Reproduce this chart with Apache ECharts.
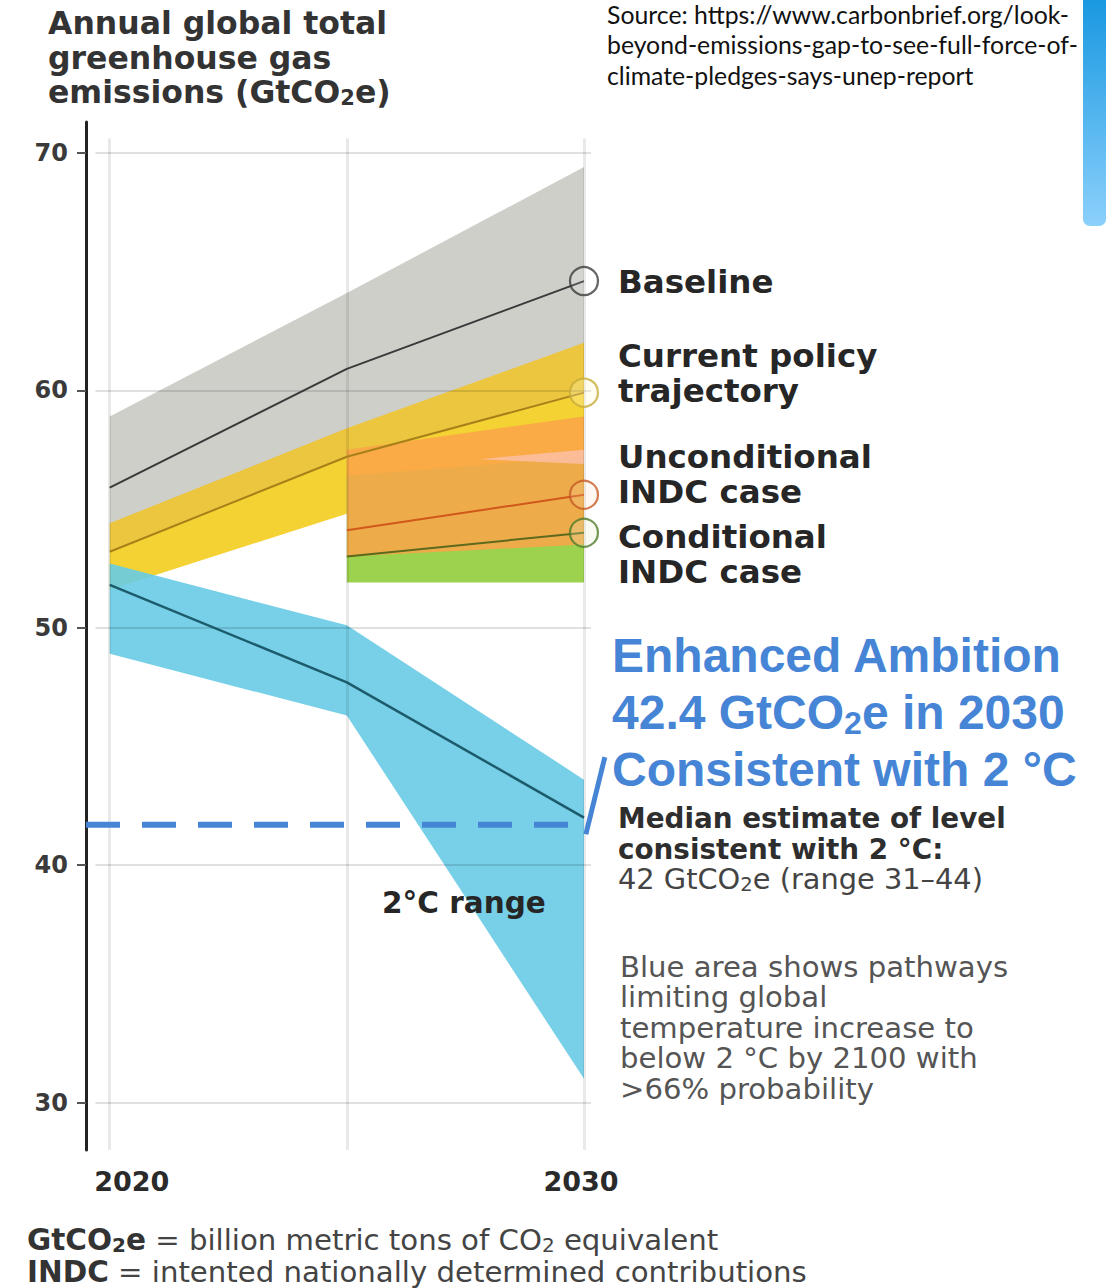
<!DOCTYPE html>
<html><head><meta charset="utf-8">
<script src="https://cdn.jsdelivr.net/npm/echarts@6/dist/echarts.min.js"></script>
<style>html,body{margin:0;padding:0;background:#fff}#c{width:1112px;height:1288px}</style>
</head><body><div id="c"></div>
<script>
// ---------- data ----------
const years = [2020, 2025, 2030];
const baselineMedian = [55.9, 60.9, 64.6];
const baselineHigh = [58.9, 64.1, 69.4];
const baselineLow = [53.2, 57.2, 60.0];
const currentMedian = [53.2, 57.2, 59.9];
const currentHigh = [54.4, 58.4, 62.0];
const currentLow = [51.6, 54.8, 56.6];
const indcYears = [2025, 2030];
const uncondMedian = [54.1, 55.6];
const uncondHigh = [57.5, 58.9];
const uncondLow = [53.0, 53.5];
const condMedian = [53.0, 54.0];
const condHigh = [56.4, 57.2];
const condLow = [51.9, 51.9];
const pinkYears = [2027.8, 2030];
const pinkLow = [57.1, 56.9];
const pinkHigh = [57.1, 57.5];
const twoDegMedian = [51.8, 47.7, 42.0];
const twoDegHigh = [52.7, 50.1, 43.6];
const twoDegLow = [48.9, 46.3, 31.0];
const enhancedLevel = 41.7;
const enhancedYears = [2019.5, 2029.9];
const slashYears = [2030.04, 2030.44];
const slashValues = [41.3, 44.55];
const yTicks = [30, 40, 50, 60, 70];
const xTicks = [2020, 2030];
const gridYears = [2020, 2025, 2030];

const titleLines = ['Annual global total', 'greenhouse gas', 'emissions (GtCO{s|2}e)'];
const sourceLines = ['Source: https://www.carbonbrief.org/look-', 'beyond-emissions-gap-to-see-full-force-of-', 'climate-pledges-says-unep-report'];
const caseLabels = ['Baseline', 'Current policy', 'trajectory', 'Unconditional', 'INDC case', 'Conditional', 'INDC case'];
const blueLines = ['Enhanced Ambition', '{m|42.4 GtCO}{s|2}{m|e in 2030}', 'Consistent with 2 °C'];
const medianLines = ['Median estimate of level', 'consistent with 2 °C:'];
const medianValue = '{r|42 GtCO}{s|2}{r|e (range 31\u201344)}';
const noteLines = ['Blue area shows pathways', 'limiting global', 'temperature increase to', 'below 2 °C by 2100 with', '>66% probability'];
const rangeLabel = '2°C range';
const footLines = ['{b|GtCO}{bs|2}{b|e}{r| = billion metric tons of CO}{rs|2}{r| equivalent}', '{b|INDC}{r| = intented nationally determined contributions}'];

// ---------- chart ----------
const chart = echarts.init(document.getElementById('c'), null, {renderer: 'svg'});
const F = 'DejaVu Sans, Verdana, sans-serif';
const A = 'Liberation Sans, Arial, sans-serif';
const X0 = 2019.5, X1 = 2031, Y0 = 28, Y1 = 71.3;

function band(xs, low, high, color) {
  return {type: 'custom', silent: true, z: 2, data: [[xs[0], low[0]]],
    renderItem: (params, api) => {
      const top = xs.map((x, i) => api.coord([x, high[i]]));
      const bot = xs.map((x, i) => api.coord([x, low[i]])).reverse();
      return {type: 'polygon', shape: {points: top.concat(bot)}, style: {fill: color}};
    }};
}
function medLine(xs, ys, color, w) {
  return {type: 'line', data: xs.map((x, i) => [x, ys[i]]), symbol: 'none', silent: true,
          lineStyle: {color, width: w}, z: 6};
}
const circleData = [
  {value: [2030, baselineMedian[2]], itemStyle: {borderColor: '#3c3c3c', color: 'rgba(255,255,255,0.15)'}},
  {value: [2030, currentMedian[2]], itemStyle: {borderColor: '#c7ac3a', color: 'rgba(255,250,200,0.35)'}},
  {value: [2030, uncondMedian[1]], itemStyle: {borderColor: '#c65a26', color: 'rgba(255,220,180,0.25)'}},
  {value: [2030, condMedian[1]], itemStyle: {borderColor: '#4f7a2b', color: 'rgba(230,240,200,0.3)'}}
];
const gridMarks = [];
yTicks.forEach(v => gridMarks.push([{coord: [2019.7, v], lineStyle: {color: 'rgba(0,0,0,0.12)', width: 2, type: 'solid'}}, {coord: [2030.15, v]}]));
gridYears.forEach(x => gridMarks.push([{coord: [x, 70.6], lineStyle: {color: 'rgba(0,0,0,0.085)', width: 3, type: 'solid'}}, {coord: [x, 28]}]));

const series = [
  band(years, baselineLow, baselineHigh, '#cfcfca'),
  band(years, currentMedian, currentHigh, '#ecc63e'),
  band(years, currentLow, currentMedian, '#f5d233'),
  band(years, twoDegLow, twoDegHigh, 'rgba(104,203,228,0.9)'),
  band(indcYears, condLow, condHigh, '#9dd24e'),
  band(indcYears, uncondLow, uncondHigh, 'rgba(250,164,72,0.86)'),
  band(pinkYears, pinkLow, pinkHigh, 'rgba(251,190,165,0.85)'),
  {type: 'line', data: [[2020, 50]], symbol: 'none', lineStyle: {width: 0, opacity: 0}, silent: true, z: 4,
   markLine: {symbol: ['none', 'none'], silent: true, label: {show: false}, animation: false,
              lineStyle: {type: 'solid'}, emphasis: {disabled: true}, data: gridMarks}},
  medLine(years, baselineMedian, '#3a3a3a', 2),
  medLine(years, currentMedian, '#a8801a', 2),
  medLine(indcYears, uncondMedian, '#d0581a', 2),
  medLine(indcYears, condMedian, '#5d6a1e', 2),
  medLine(years, twoDegMedian, '#1c5b6c', 2.5),
  {type: 'line', data: enhancedYears.map(x => [x, enhancedLevel]), symbol: 'none', silent: true, z: 7,
   lineStyle: {color: '#4685d6', width: 6, type: [34, 22], cap: 'butt'}},
  {type: 'line', data: slashYears.map((x, i) => [x, slashValues[i]]), symbol: 'none', silent: true, z: 7,
   lineStyle: {color: '#4685d6', width: 5}},
  {type: 'scatter', data: circleData, symbol: 'circle', symbolSize: 28, silent: true, z: 8,
   itemStyle: {borderWidth: 2.2}}
];

function txt(text, x, y, st, sx) {
  return {type: 'text', x, y, z: 50, scaleX: sx || 1, silent: true,
          style: Object.assign({text, align: 'left', verticalAlign: 'middle'}, st)};
}
const g = [];
// decorative blue tab at top-right
g.push({type: 'rect', silent: true, z: 1, shape: {x: 1083, y: -10, width: 23, height: 236, r: [0, 0, 7, 7]},
  style: {fill: new echarts.graphic.LinearGradient(0, 0, 0, 1, [{offset: 0, color: '#1496e0'}, {offset: 1, color: '#8bd0fb'}])}});
// title
const titleY = [23, 58, 92];
titleLines.forEach((t, i) => g.push(txt(t, 48, titleY[i], {
  fontFamily: F, fontWeight: 'bold', fontSize: 31.5, fill: '#333', lineHeight: 34,
  rich: {s: {fontFamily: F, fontWeight: 'bold', fontSize: 21, fill: '#333', padding: [12, 0, 0, 0], lineHeight: 21}}
})));
// source
const srcY = [14, 44, 75];
sourceLines.forEach((t, i) => g.push(txt(t, 607, srcY[i], {fontFamily: 'Lato, Open Sans, sans-serif', fontSize: 24.8, fill: '#111', lineHeight: 26})));
// case labels
const caseY = [282, 356, 391, 457, 492, 537, 572];
caseLabels.forEach((t, i) => g.push(txt(t, 618, caseY[i], {fontFamily: F, fontWeight: 'bold', fontSize: 32.5, fill: '#262626', lineHeight: 34})));
// blue annotation
const blueY = [655, 712, 769];
blueLines.forEach((t, i) => g.push(txt(t, 612, blueY[i], {
  fontFamily: A, fontWeight: 'bold', fontSize: 48, fill: '#4685d6', lineHeight: 56,
  rich: {m: {fontFamily: A, fontWeight: 'bold', fontSize: 48, fill: '#4685d6', lineHeight: 56},
         s: {fontFamily: A, fontWeight: 'bold', fontSize: 32, fill: '#4685d6', padding: [22, 0, 0, 0], lineHeight: 32}}
})));
// median text
const medY = [818, 849];
medianLines.forEach((t, i) => g.push(txt(t, 618, medY[i], {fontFamily: F, fontWeight: 'bold', fontSize: 27.8, fill: '#2e2e2e', lineHeight: 30})));
g.push(txt(medianValue, 618, 880, {
  fontFamily: F, fontSize: 28, fill: '#444', lineHeight: 30,
  rich: {r: {fontFamily: F, fontSize: 28, fill: '#444', lineHeight: 30},
         s: {fontFamily: F, fontSize: 19, fill: '#444', padding: [10, 0, 0, 0], lineHeight: 19}}
}, 1.03));
// note
const noteY = [968, 998, 1029, 1059, 1090];
noteLines.forEach((t, i) => g.push(txt(t, 620, noteY[i], {fontFamily: F, fontSize: 27.5, fill: '#555', lineHeight: 29}, 1.06)));
// 2C range
g.push(txt(rangeLabel, 382, 903, {fontFamily: F, fontWeight: 'bold', fontSize: 29.5, fill: '#262626', lineHeight: 32}));
// footer
const footY = [1240, 1272];
footLines.forEach((t, i) => g.push(txt(t, 27, footY[i], {
  fontFamily: F, fontSize: 29, fill: '#333', lineHeight: 30,
  rich: {b: {fontFamily: F, fontWeight: 'bold', fontSize: 29.5, fill: '#333', lineHeight: 30},
         bs: {fontFamily: F, fontWeight: 'bold', fontSize: 20, fill: '#333', padding: [10, 0, 0, 0], lineHeight: 20},
         r: {fontFamily: F, fontSize: 29.2, fill: '#444', lineHeight: 30},
         rs: {fontFamily: F, fontSize: 20, fill: '#444', padding: [10, 0, 0, 0], lineHeight: 20}}
})));

chart.setOption({
  animation: false,
  backgroundColor: '#fff',
  grid: {left: 86, top: 122, width: 545.4, height: 1028, containLabel: false, outerBoundsMode: 'none'},
  xAxis: {type: 'value', min: X0, max: X1,
    axisLine: {show: false, onZero: false}, axisTick: {show: false}, splitLine: {show: false},
    axisLabel: {customValues: xTicks, margin: 18, color: '#2a2a2a', fontFamily: F, fontWeight: 'bold', fontSize: 27,
      formatter: v => v === 2020 ? '{a|' + v + '}' : '{b|' + v + '}',
      rich: {a: {fontFamily: F, fontWeight: 'bold', fontSize: 27, color: '#2a2a2a', padding: [0, 0, 0, 44]},
             b: {fontFamily: F, fontWeight: 'bold', fontSize: 27, color: '#2a2a2a', padding: [0, 6, 0, 0]}}}},
  yAxis: {type: 'value', min: Y0, max: Y1,
    axisLine: {show: true, onZero: false, lineStyle: {color: '#222', width: 3}},
    axisTick: {show: true, customValues: yTicks, length: 9, lineStyle: {color: '#555', width: 2}},
    splitLine: {show: false},
    axisLabel: {customValues: yTicks, margin: 18, color: '#3a3a3a', fontFamily: F, fontWeight: 'bold', fontSize: 24}},
  series,
  graphic: g
});
</script></body></html>
